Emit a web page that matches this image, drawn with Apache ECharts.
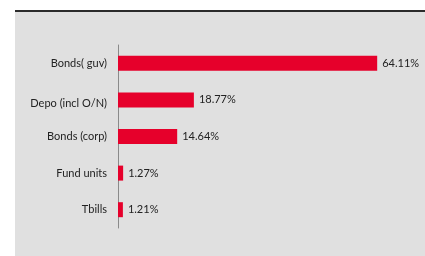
<!DOCTYPE html>
<html>
<head>
<meta charset="utf-8">
<script src="https://cdn.jsdelivr.net/npm/echarts@6/dist/echarts.min.js"></script>
<style>
  html, body { margin: 0; padding: 0; background: #ffffff; }
  #panel { position: absolute; left: 15px; top: 10px; width: 410px; height: 246px; background: #e0e0e0; border-top: 2px solid #2b2b2b; box-sizing: border-box; }
  #chart { position: absolute; left: 0; top: 0; width: 425px; height: 256px; }
</style>
</head>
<body>
<div id="panel"></div>
<div id="chart"></div>
<script>
const categories = ["Bonds( guv)", "Depo (incl O/N)", "Bonds (corp)", "Fund units", "Tbills"];
const values = [64.11, 18.77, 14.64, 1.27, 1.21];

const chart = echarts.init(document.getElementById('chart'));
chart.setOption({
  backgroundColor: 'transparent',
  animation: false,
  grid: { left: 118, top: 45, bottom: 28, right: 24, containLabel: false },
  xAxis: { type: 'value', min: 0, max: 70, show: false, splitLine: { show: false } },
  yAxis: {
    type: 'category',
    inverse: true,
    data: categories,
    axisLine: { show: true, lineStyle: { color: '#8a8a8a', width: 1 } },
    axisTick: { show: false },
    axisLabel: {
      color: '#222222', fontSize: 11, fontFamily: 'Lato', margin: 11,
      formatter: function (v, i) { return i === 1 ? '{dn|' + v + '}' : v; },
      rich: { dn: { color: '#222222', fontSize: 11, fontFamily: 'Lato', padding: [8, 0, 0, 0] } }
    }
  },
  series: [{
    type: 'bar',
    data: values,
    barWidth: 15,
    itemStyle: { color: '#e6002b' },
    label: {
      show: true, position: 'right', distance: 5,
      color: '#222222', fontSize: 11, fontFamily: 'Lato',
      formatter: function (p) { return p.value.toFixed(2) + '%'; }
    }
  }]
});
</script>
</body>
</html>
